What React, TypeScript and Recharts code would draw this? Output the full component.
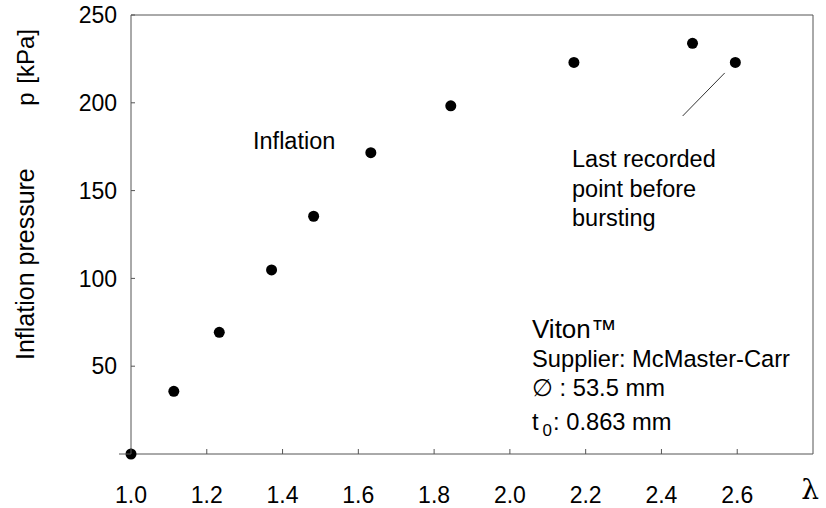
import React from "react";
import {
  ScatterChart,
  Scatter,
  XAxis,
  YAxis,
  ReferenceLine,
} from "recharts";

const lambdaValues = [1.0, 1.113, 1.233, 1.371, 1.482, 1.633, 1.844, 2.169, 2.482, 2.595];
const pressureValues = [0, 35.7, 69.3, 104.8, 135.4, 171.6, 198.3, 223, 233.9, 223];
const xTicks = [1.0, 1.2, 1.4, 1.6, 1.8, 2.0, 2.2, 2.4, 2.6];
const yTicks = [0, 50, 100, 150, 200, 250];
const annotationLine = [
  { x: 2.456, y: 192.5 },
  { x: 2.567, y: 217 },
];

const data = lambdaValues.map((x, i) => ({ x, y: pressureValues[i] }));

const FONT = "'Liberation Sans', Arial, Helvetica, sans-serif";
const AXIS = "#555";

const XTick = (props: any) => {
  const { x, y, payload } = props;
  return (
    <g>
      <line x1={x} y1={y} x2={x} y2={y - 5} stroke={AXIS} strokeWidth={1} />
      <text x={x} y={y + 49} textAnchor="middle" fontSize={23} fontFamily={FONT} fill="#000">
        {Number(payload.value).toFixed(1)}
      </text>
    </g>
  );
};

const YTick = (props: any) => {
  const { x, y, payload } = props;
  const v = payload.value;
  if (v === 0) {
    return <line x1={x - 12} y1={y} x2={x} y2={y} stroke={AXIS} strokeWidth={1} />;
  }
  return (
    <g>
      <line x1={x} y1={y} x2={x + 4} y2={y} stroke={AXIS} strokeWidth={1} />
      <text x={x - 14} y={y} dy="0.36em" textAnchor="end" fontSize={23} fontFamily={FONT} fill="#000">
        {v}
      </text>
    </g>
  );
};

const Dot = (props: any) => {
  const { cx, cy } = props;
  return <circle cx={cx} cy={cy} r={5.5} fill="#000" />;
};

export default function App() {
  return (
    <div style={{ position: "absolute", left: 0, top: 0, background: "#fff" }}>
      <ScatterChart
        width={826}
        height={508}
        margin={{ top: 14, right: 12, bottom: 53, left: 130 }}
      >
        <XAxis
          type="number"
          dataKey="x"
          domain={[1.0, 2.8]}
          ticks={xTicks}
          height={1}
          tickSize={0}
          tickMargin={0}
          tickLine={false}
          axisLine={{ stroke: AXIS, strokeWidth: 1 }}
          tick={<XTick />}
        />
        <XAxis
          xAxisId="top"
          orientation="top"
          type="number"
          domain={[1.0, 2.8]}
          height={1}
          tick={false}
          tickLine={false}
          axisLine={{ stroke: AXIS, strokeWidth: 1 }}
        />
        <YAxis
          type="number"
          dataKey="y"
          domain={[0, 250]}
          ticks={yTicks}
          width={1}
          tickSize={0}
          tickMargin={0}
          tickLine={false}
          axisLine={{ stroke: AXIS, strokeWidth: 1 }}
          tick={<YTick />}
        />
        <YAxis
          yAxisId="right"
          orientation="right"
          type="number"
          domain={[0, 250]}
          width={1}
          tick={false}
          tickLine={false}
          axisLine={{ stroke: AXIS, strokeWidth: 1 }}
        />
        <ReferenceLine segment={annotationLine} stroke="#333" strokeWidth={1} ifOverflow="visible" />
        <Scatter data={data} shape={<Dot />} isAnimationActive={false} />

        <text x={25} y={360} transform="rotate(-90 25 360)" textAnchor="start" dominantBaseline="central" fontSize={25} fontFamily={FONT} fill="#000">
          Inflation pressure
        </text>
        <text x={25} y={99} transform="rotate(-90 25 99)" textAnchor="middle" dominantBaseline="central" fontSize={24} fontFamily={FONT} fill="#000">
          p
        </text>
        <text x={25} y={29} transform="rotate(-90 25 29)" textAnchor="end" dominantBaseline="central" fontSize={24} fontFamily={FONT} fill="#000">
          [kPa]
        </text>
        <text x={810} y={499} textAnchor="middle" fontSize={28} fontFamily="'DejaVu Serif', serif" fill="#000">
          λ
        </text>
        <text x={253} y={149} fontSize={23.5} fontFamily={FONT} fill="#000">Inflation</text>
        <text fontSize={23.5} fontFamily={FONT} fill="#000">
          <tspan x={572} y={167}>Last recorded</tspan>
          <tspan x={572} y={196.5}>point before</tspan>
          <tspan x={572} y={226}>bursting</tspan>
        </text>
        <text x={532} y={338} fontSize={26} fontFamily={FONT} fill="#000">Viton™</text>
        <text x={532} y={367} fontSize={23.7} fontFamily={FONT} fill="#000">Supplier: McMaster-Carr</text>
        <text x={532} y={396} fontSize={23.7} fontFamily={FONT} fill="#000">∅ : 53.5 mm</text>
        <text x={532} y={430} fontSize={23.7} fontFamily={FONT} fill="#000">
          t
          <tspan dx={4} dy={6} fontSize={17}>0</tspan>
          <tspan dx={1} dy={-6}>: 0.863 mm</tspan>
        </text>
      </ScatterChart>
    </div>
  );
}
